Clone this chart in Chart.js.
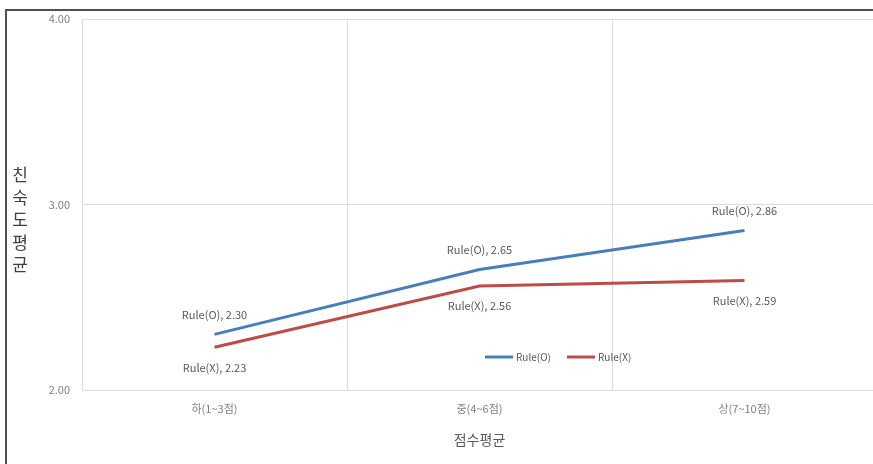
<!DOCTYPE html>
<html>
<head>
<meta charset="utf-8">
<script src="https://cdn.jsdelivr.net/npm/chart.js@4/dist/chart.umd.min.js"></script>
<style>
  html, body { margin: 0; padding: 0; background: #fff; overflow: hidden; }
  #wrap { position: absolute; left: 0; top: 0; width: 880px; height: 464px; }
</style>
</head>
<body>
<div id="wrap"><canvas id="chart" width="880" height="464"></canvas></div>
<script>
// Chart data
const categories = ['하(1~3점)', '중(4~6점)', '상(7~10점)'];
const ruleO = [2.30, 2.65, 2.86];
const ruleX = [2.23, 2.56, 2.59];
const seriesNames = ['Rule(O)', 'Rule(X)'];
const yTitle = '친숙도평균';
const xTitle = '점수평균';

const FONT = '"Noto Sans CJK KR", "Noto Sans", sans-serif';
const BLUE = '#4a7ebb';
const RED = '#be4b48';

// Labels: blue above the point, red below
const labelPlugin = {
    id: 'pointLabels',
    afterDatasetsDraw(chart) {
        const ctx = chart.ctx;
        ctx.save();
        ctx.font = '11px ' + FONT;
        ctx.fillStyle = '#595959';
        ctx.textAlign = 'center';
        ctx.textBaseline = 'middle';
        chart.data.datasets.forEach((ds, di) => {
            const meta = chart.getDatasetMeta(di);
            meta.data.forEach((pt, i) => {
                const dy = di === 0 ? -20 : 20;
                ctx.fillText(ds.label + ', ' + ds.data[i].toFixed(2), pt.x, pt.y + dy);
            });
        });
        ctx.restore();
    }
};

// Legend drawn inside the plot, near the bottom
const legendPlugin = {
    id: 'innerLegend',
    afterDraw(chart) {
        const ctx = chart.ctx;
        const area = chart.chartArea;
        const y = area.bottom - 33;
        let x = 485;
        ctx.save();
        ctx.font = '10px ' + FONT;
        ctx.textBaseline = 'middle';
        chart.data.datasets.forEach(ds => {
            ctx.strokeStyle = ds.borderColor;
            ctx.lineWidth = 3;
            ctx.beginPath();
            ctx.moveTo(x, y);
            ctx.lineTo(x + 28, y);
            ctx.stroke();
            ctx.fillStyle = '#595959';
            ctx.fillText(ds.label, x + 31, y);
            x += 31 + ctx.measureText(ds.label).width + 16;
        });
        ctx.restore();
    }
};

// Stacked upright y title and the outer frame
const framePlugin = {
    id: 'frame',
    afterDraw(chart) {
        const ctx = chart.ctx;
        ctx.save();
        ctx.font = '17px ' + FONT;
        ctx.fillStyle = '#404040';
        ctx.textAlign = 'center';
        ctx.textBaseline = 'middle';
        [...yTitle].forEach((ch, i) => {
            ctx.fillText(ch, 20, 175 + i * 22.5);
        });
        ctx.strokeStyle = '#505050';
        ctx.lineWidth = 2;
        ctx.beginPath();
        ctx.moveTo(6, 464);
        ctx.lineTo(6, 10);
        ctx.lineTo(880, 10);
        ctx.stroke();
        ctx.restore();
    }
};

new Chart(document.getElementById('chart'), {
    type: 'line',
    data: {
        labels: categories,
        datasets: [
            { label: seriesNames[0], data: ruleO, borderColor: BLUE, backgroundColor: BLUE },
            { label: seriesNames[1], data: ruleX, borderColor: RED, backgroundColor: RED }
        ]
    },
    options: {
        responsive: false,
        animation: false,
        devicePixelRatio: 1,
        layout: { padding: { left: 0, top: 19, right: 3, bottom: 0 } },
        elements: {
            line: { borderWidth: 3, tension: 0 },
            point: { radius: 0, hoverRadius: 0 }
        },
        scales: {
            x: {
                offset: true,
                grid: { offset: true, color: '#dcdcdc', lineWidth: 1, drawTicks: false },
                border: { display: false },
                ticks: { color: '#808080', font: { family: FONT, size: 11 }, padding: 12 },
                title: { display: true, text: xTitle, color: '#595959', font: { family: FONT, size: 14 }, padding: { top: 4, bottom: 16 } },
                afterFit(s) { s.height = 74; }
            },
            y: {
                min: 2,
                max: 4,
                grid: { color: '#dcdcdc', lineWidth: 1, drawTicks: false },
                border: { display: false },
                ticks: {
                    stepSize: 1,
                    color: '#808080',
                    font: { family: FONT, size: 11 },
                    padding: 12,
                    callback: v => v.toFixed(2)
                },
                afterFit(s) { s.width = 82; }
            }
        },
        plugins: {
            legend: { display: false },
            tooltip: { enabled: false }
        }
    },
    plugins: [labelPlugin, legendPlugin, framePlugin]
});
</script>
</body>
</html>
